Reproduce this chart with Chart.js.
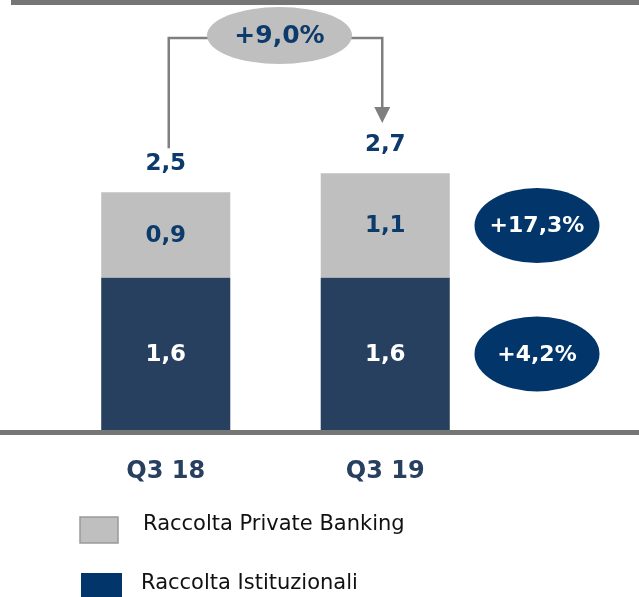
<!DOCTYPE html>
<html>
<head>
<meta charset="utf-8">
<script src="https://cdn.jsdelivr.net/npm/chart.js@4/dist/chart.umd.min.js"></script>
<style>
    html, body { margin: 0; padding: 0; background: #ffffff; }
    #chart { display: block; }
</style>
</head>
<body>
<canvas id="chart" width="639" height="597"></canvas>
<script>
// Chart data
const quarters = ['Q3 18', 'Q3 19'];
const privateBanking = [0.9, 1.1];
const istituzionali = [1.6, 1.6];
const totals = [2.5, 2.7];
const seriesNames = ['Raccolta Private Banking', 'Raccolta Istituzionali'];
const totalGrowth = '+9,0%';
const seriesGrowth = ['+17,3%', '+4,2%'];

const FONT = '"DejaVu Sans", Verdana, sans-serif';
const NAVY = '#0b3a6b';
const BAR_NAVY = '#27405f';
const BAR_GREY = '#bfbfbf';
const LINE_GREY = '#7f7f7f';

function fmt(v) {
    return v.toFixed(1).replace('.', ',');
}

function ellipse(ctx, x, y, rx, ry, fill, text, color, size) {
    ctx.beginPath();
    ctx.ellipse(x, y, rx, ry, 0, 0, Math.PI * 2);
    ctx.fillStyle = fill;
    ctx.fill();
    ctx.fillStyle = color;
    ctx.font = 'bold ' + size + 'px ' + FONT;
    ctx.textAlign = 'center';
    ctx.textBaseline = 'middle';
    ctx.fillText(text, x, y + 1);
}

// Everything drawn around the bars: rules, labels, bubbles, legend
const decorations = {
    id: 'decorations',
    afterDatasetsDraw(chart) {
        const ctx = chart.ctx;
        const area = chart.chartArea;
        const xs = chart.scales.x;
        const ys = chart.scales.y;
        const greyBars = chart.getDatasetMeta(1).data;
        const navyBars = chart.getDatasetMeta(0).data;

        ctx.save();

        // top and bottom rules
        ctx.fillStyle = '#767676';
        ctx.fillRect(11, 0, chart.width - 11, 5);
        ctx.fillRect(0, area.bottom, chart.width, 5);

        // values inside the segments
        ctx.textAlign = 'center';
        ctx.textBaseline = 'middle';
        ctx.font = 'bold 23px ' + FONT;
        navyBars.forEach((bar, i) => {
            ctx.fillStyle = '#ffffff';
            ctx.fillText(fmt(istituzionali[i]), bar.x, (bar.y + bar.base) / 2 + 1);
        });
        greyBars.forEach((bar, i) => {
            ctx.fillStyle = NAVY;
            ctx.fillText(fmt(privateBanking[i]), bar.x, (bar.y + bar.base) / 2 + 1);
        });

        // totals above the bars
        quarters.forEach((q, i) => {
            const x = xs.getPixelForValue(i);
            const y = ys.getPixelForValue(totals[i]);
            ctx.fillStyle = NAVY;
            ctx.fillText(fmt(totals[i]), x, y - 28);
        });

        // category labels
        ctx.fillStyle = '#283f5f';
        ctx.font = 'bold 24px ' + FONT;
        quarters.forEach((q, i) => {
            ctx.fillText(q, xs.getPixelForValue(i), area.bottom + 42);
        });

        // growth connector between the totals
        const x0 = xs.getPixelForValue(0) + 3;
        const x1 = xs.getPixelForValue(1) - 3;
        const lineY = 38;
        ctx.strokeStyle = LINE_GREY;
        ctx.lineWidth = 2.5;
        ctx.beginPath();
        ctx.moveTo(x0, ys.getPixelForValue(totals[0]) - 44);
        ctx.lineTo(x0, lineY);
        ctx.lineTo(x1, lineY);
        ctx.lineTo(x1, 108);
        ctx.stroke();
        ctx.fillStyle = LINE_GREY;
        ctx.beginPath();
        ctx.moveTo(x1 - 8, 107);
        ctx.lineTo(x1 + 8, 107);
        ctx.lineTo(x1, 123);
        ctx.closePath();
        ctx.fill();
        ellipse(ctx, (x0 + x1) / 2 + 4, 35.5, 72.5, 28.5, BAR_GREY, totalGrowth, NAVY, 25);

        // growth bubbles per series, level with the Q3 19 segments
        const bx = area.right + 42;
        const g = greyBars[1];
        const n = navyBars[1];
        ellipse(ctx, bx, (g.y + g.base) / 2, 62.5, 37.5, '#02366a', seriesGrowth[0], '#ffffff', 22);
        ellipse(ctx, bx, (n.y + n.base) / 2, 62.5, 37.5, '#02366a', seriesGrowth[1], '#ffffff', 22);

        // legend
        ctx.fillStyle = BAR_GREY;
        ctx.fillRect(80, 517, 38, 26);
        ctx.strokeStyle = '#9a9a9a';
        ctx.lineWidth = 1.5;
        ctx.strokeRect(80, 517, 38, 26);
        ctx.fillStyle = '#02366a';
        ctx.fillRect(81, 573, 41, 30);

        ctx.fillStyle = '#111111';
        ctx.font = '21px ' + FONT;
        ctx.textAlign = 'left';
        ctx.fillText(seriesNames[0], 143, 525);
        ctx.fillText(seriesNames[1], 141, 584);

        ctx.restore();
    }
};

new Chart(document.getElementById('chart'), {
    type: 'bar',
    data: {
        labels: quarters,
        datasets: [
            {
                label: seriesNames[1],
                data: istituzionali,
                backgroundColor: BAR_NAVY,
                barPercentage: 0.588,
                categoryPercentage: 1
            },
            {
                label: seriesNames[0],
                data: privateBanking,
                backgroundColor: BAR_GREY,
                barPercentage: 0.588,
                categoryPercentage: 1
            }
        ]
    },
    options: {
        responsive: false,
        animation: false,
        layout: {
            padding: { left: 56, right: 144, top: 2, bottom: 167 }
        },
        scales: {
            x: { stacked: true, display: false },
            y: { stacked: true, display: false, min: 0, max: 4.5 }
        },
        plugins: {
            legend: { display: false },
            tooltip: { enabled: false }
        }
    },
    plugins: [decorations]
});
</script>
</body>
</html>
